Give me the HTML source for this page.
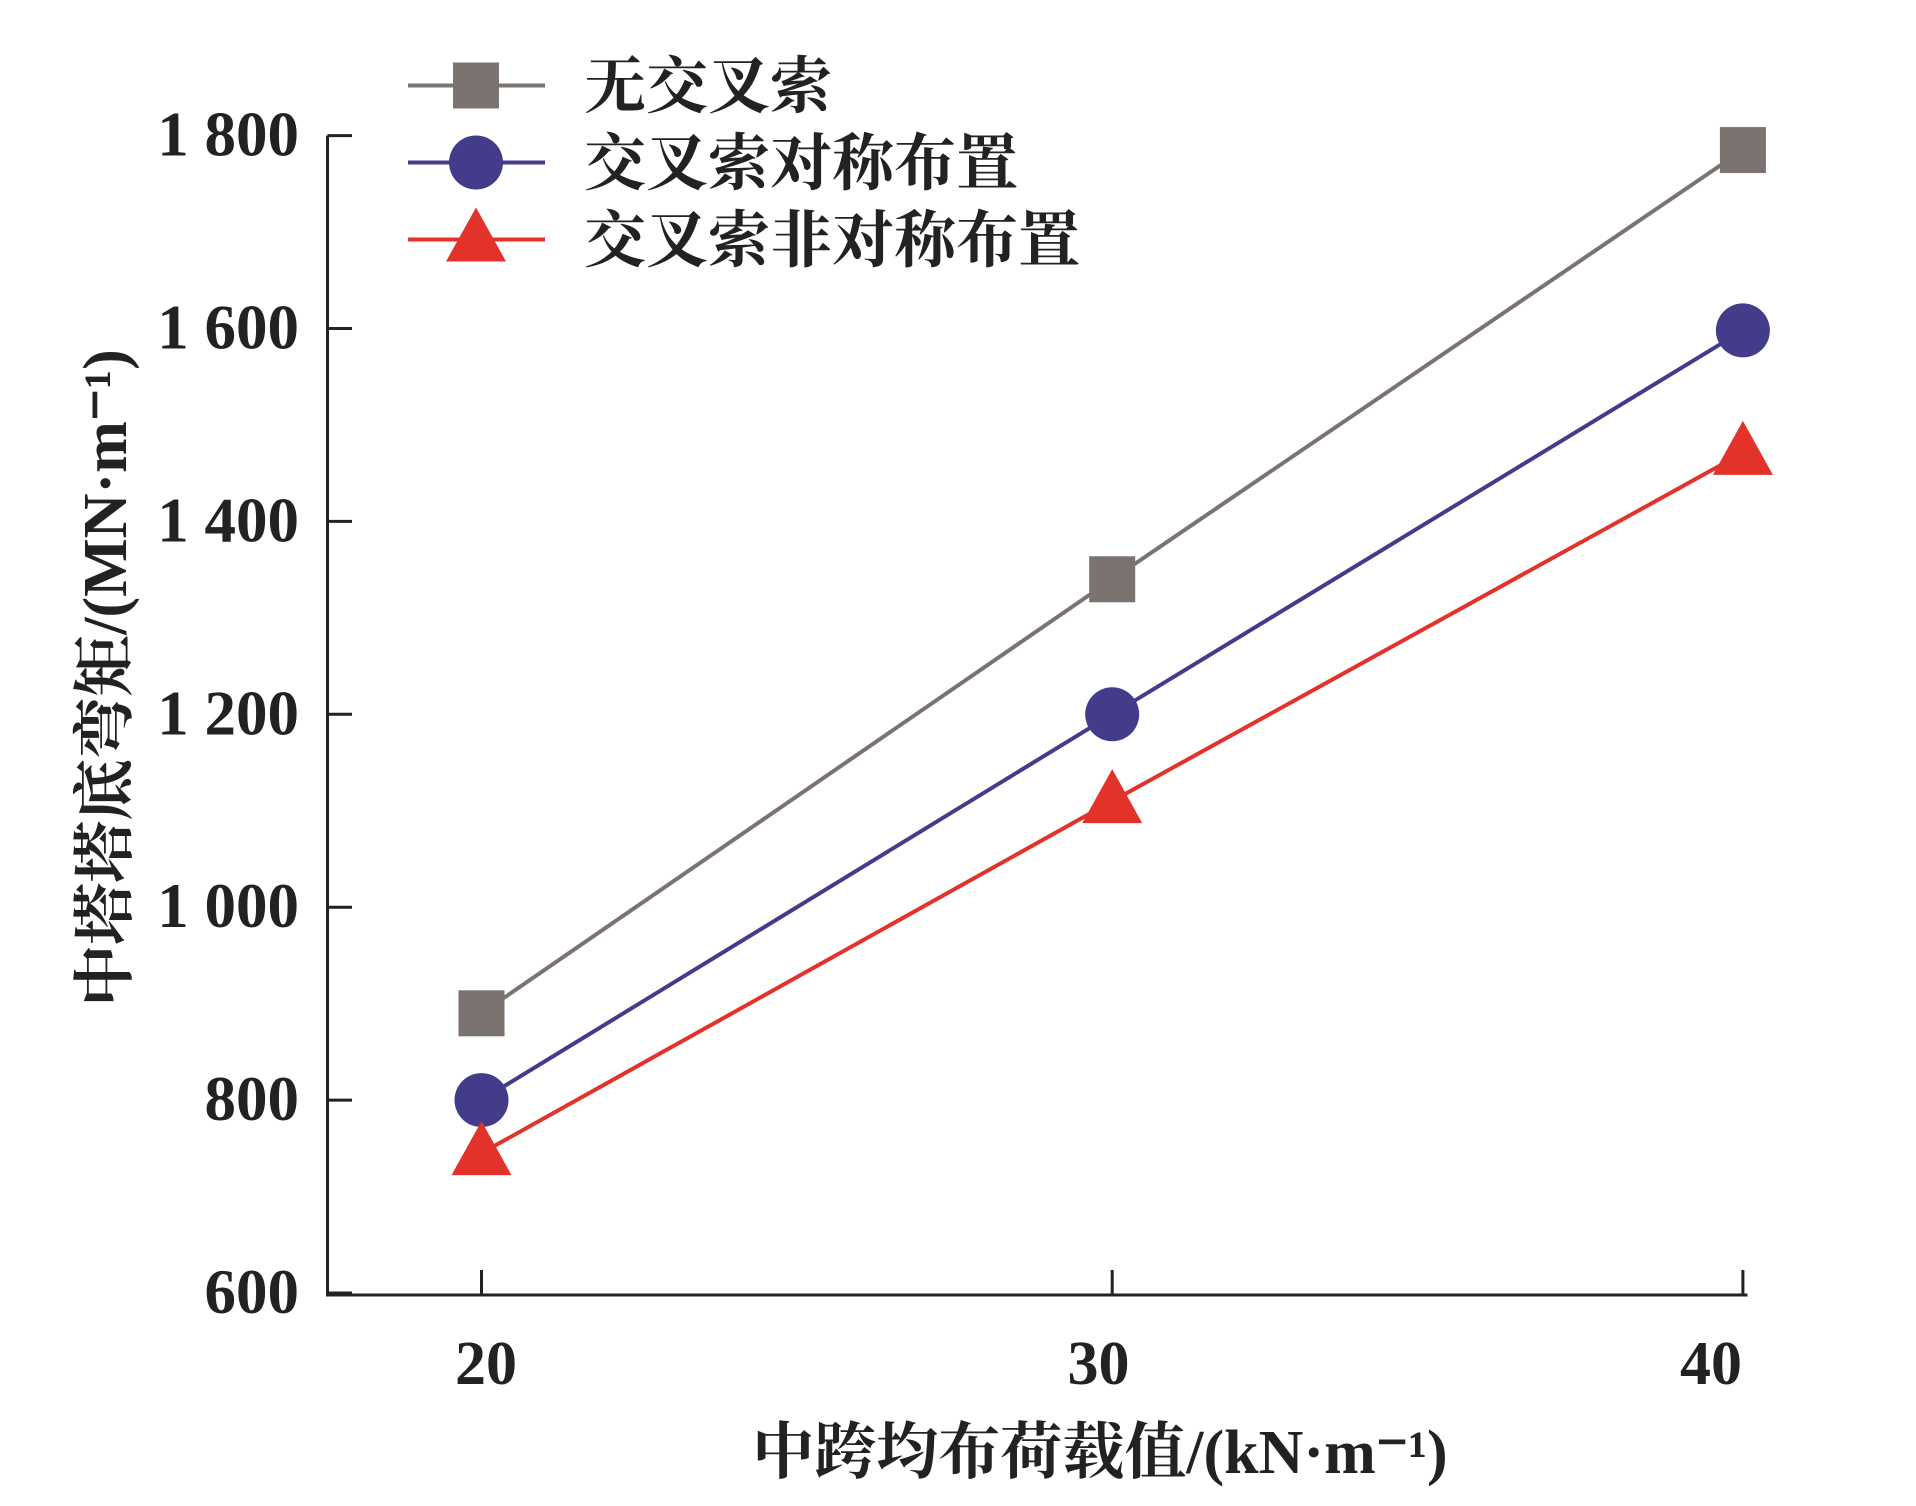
<!DOCTYPE html>
<html><head><meta charset="utf-8"><style>
body{margin:0;background:#fff}
svg{display:block}
text{font-family:"Liberation Serif","Noto Serif CJK SC",serif;fill:#222}
</style></head><body>
<svg id="chart" width="1916" height="1506" viewBox="0 0 1916 1506" xmlns="http://www.w3.org/2000/svg">
<g id="axes"></g><g id="series"></g><g id="legend"></g>
</svg>
<script>
const categories=[20,30,40];
const seriesNone=[890,1340,1785];
const seriesSym=[800,1200,1598];
const seriesAsym=[745,1110,1471];
const yTicks=[600,800,1000,1200,1400,1600,1800];
const yTickLabels=["600","800","1 000","1 200","1 400","1 600","1 800"];
const seriesNames=["无交叉索","交叉索对称布置","交叉索非对称布置"];
const NS="http://www.w3.org/2000/svg";
function xs(v){return 481.5+(v-20)/10*630.7;}
function xl(v){return 486+(v-20)/10*612.5;}
function ys(v){return 135.6+(1800-v)/200*192.9;}
function mk(tag,attrs,parent,txt){const e=document.createElementNS(NS,tag);for(const k in attrs)e.setAttribute(k,attrs[k]);if(txt!==undefined)e.textContent=txt;parent.appendChild(e);return e;}
const axes=document.getElementById('axes'),ser=document.getElementById('series'),leg=document.getElementById('legend');
let a=mk('path',{d:'M327.5 135.6 V1295 H1747.5',fill:'none',stroke:'#222','stroke-width':3},axes);


yTicks.forEach((t,i)=>{
 let l=mk('line',{x1:327.5,x2:352,y1:ys(t),y2:ys(t),stroke:'#222','stroke-width':3},axes);
 
 
 let tx=mk('text',{x:299,y:ys(t)+20,'text-anchor':'end','font-size':63,'font-weight':'bold'},axes,yTickLabels[i]);
 
 
});
categories.forEach(c=>{
 let l=mk('line',{x1:xs(c),x2:xs(c),y1:1295,y2:1270,stroke:'#222','stroke-width':3},axes);
 
 
 let tx=mk('text',{x:xl(c),y:1384,'text-anchor':'middle','font-size':62,'font-weight':'bold'},axes,String(c));
 
 
});
let xt=mk('text',{x:1100,y:1473,'text-anchor':'middle','font-size':62,'font-weight':'bold'},axes,'中跨均布荷载值/(kN·m⁻¹)');


let yt=mk('text',{x:0,y:0,'text-anchor':'middle','font-size':62,'font-weight':'bold',transform:'translate(126,678) rotate(-90)'},axes,'中塔塔底弯矩/(MN·m⁻¹)');


function marker(type,x,y,color,parent){
 let e;
 if(type==='sq') e=mk('rect',{x:x-23,y:y-23,width:46,height:46,fill:color},parent);
 else if(type==='ci') e=mk('circle',{cx:x,cy:y,r:27,fill:color},parent);
 else e=mk('polygon',{points:`${x},${y-32} ${x-30},${y+22} ${x+30},${y+22}`,fill:color},parent);
 return e;
}
const defs=[[seriesNone,'#7b7370','sq'],[seriesSym,'#433c8a','ci'],[seriesAsym,'#e2322a','tr']];
defs.forEach((d,si)=>{
 const g=mk('g',{},ser);
 
 
 const pts=d[0].map((v,i)=>xs(categories[i])+','+ys(v)).join(' ');
 let pl=mk('polyline',{points:pts,fill:'none',stroke:d[1],'stroke-width':4},g);
 
 
 d[0].forEach((v,i)=>{
  let m=marker(d[2],xs(categories[i]),ys(v),d[1],g);
  
  
 });
 const ly=85.5+si*77;
 const lg=mk('g',{},leg);
 
 
 mk('line',{x1:408,x2:545,y1:ly,y2:ly,stroke:d[1],'stroke-width':4},lg);
 marker(d[2],476,ly,d[1],lg);
 let t=mk('text',{x:584,y:ly+22,'font-size':62,'font-weight':'bold','font-family':'"Noto Serif CJK SC",serif'},lg,seriesNames[si]);
 
 
});
</script>
</body></html>
